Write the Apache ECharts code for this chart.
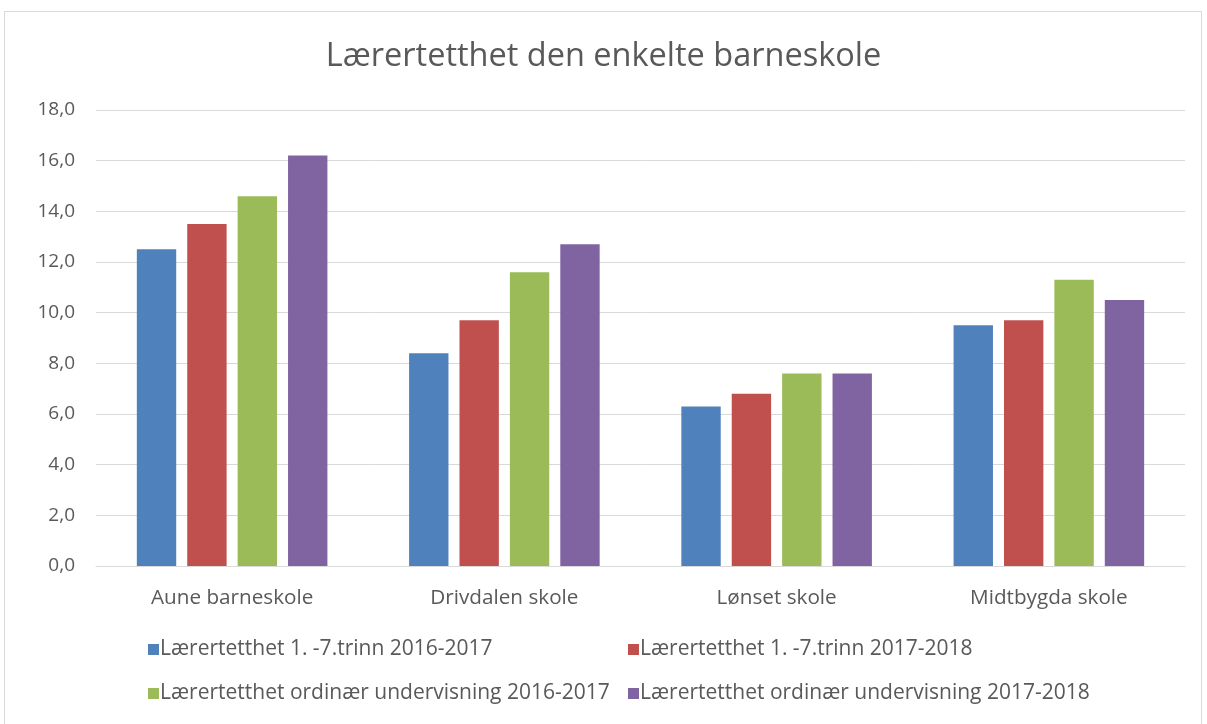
<!DOCTYPE html>
<html>
<head>
<meta charset="utf-8">
<script src="https://cdn.jsdelivr.net/npm/echarts@6/dist/echarts.min.js"></script>
<style>
html,body{margin:0;padding:0;background:#fff;}
#c{width:1207px;height:724px;}
</style>
</head>
<body>
<div id="c"></div>
<script>
const title = "Lærertetthet den enkelte barneskole";
const categories = ["Aune barneskole", "Drivdalen skole", "Lønset skole", "Midtbygda skole"];
const seriesNames = [
  "Lærertetthet 1. -7.trinn 2016-2017",
  "Lærertetthet 1. -7.trinn 2017-2018",
  "Lærertetthet ordinær undervisning 2016-2017",
  "Lærertetthet ordinær undervisning 2017-2018"
];
const trinn1617 = [12.5, 8.4, 6.3, 9.5];
const trinn1718 = [13.5, 9.7, 6.8, 9.7];
const ord1617 = [14.6, 11.6, 7.6, 11.3];
const ord1718 = [16.2, 12.7, 7.6, 10.5];
const colors = ["#4f81bd", "#c0504d", "#9bbb59", "#8064a2"];

const font = "'Open Sans', sans-serif";
const chart = echarts.init(document.getElementById('c'));
const values = [trinn1617, trinn1718, ord1617, ord1718];
const legendPos = [[143, 634], [623, 634], [143, 678], [623, 678]];

chart.setOption({
  animation: false,
  graphic: [{
    type: 'rect', shape: {x: 4.5, y: 11.5, width: 1197, height: 720},
    style: {fill: 'none', stroke: '#d9d9d9', lineWidth: 1}, silent: true
  }],
  title: {
    text: title, left: 'center', top: 35,
    textStyle: {fontFamily: font, fontSize: 32.5, fontWeight: 'normal', color: '#595959'}
  },
  legend: seriesNames.map((n, i) => ({
    data: [n], left: legendPos[i][0], top: legendPos[i][1],
    itemWidth: 11, itemHeight: 11, itemGap: 0, icon: 'rect',
    textStyle: {fontFamily: font, fontSize: 21, color: '#595959', padding: [0, 0, 0, -4]}
  })),
  grid: {left: 96, right: 22, top: 110, bottom: 158, containLabel: false},
  xAxis: {
    type: 'category', data: categories,
    axisLine: {lineStyle: {color: '#d9d9d9'}},
    axisTick: {show: false},
    axisLabel: {fontFamily: font, fontSize: 20.7, color: '#595959', margin: 22}
  },
  yAxis: {
    type: 'value', min: 0, max: 18, interval: 2,
    axisLine: {show: false}, axisTick: {show: false},
    splitLine: {lineStyle: {color: '#d9d9d9', width: 1}},
    axisLabel: {fontFamily: font, fontSize: 19, color: '#595959', margin: 21,
      formatter: v => v.toFixed(1).replace('.', ',')}
  },
  series: seriesNames.map((n, i) => ({
    name: n, type: 'bar', data: values[i],
    barGap: '28%', barCategoryGap: '30%',
    itemStyle: {color: colors[i]}
  }))
});
</script>
</body>
</html>
